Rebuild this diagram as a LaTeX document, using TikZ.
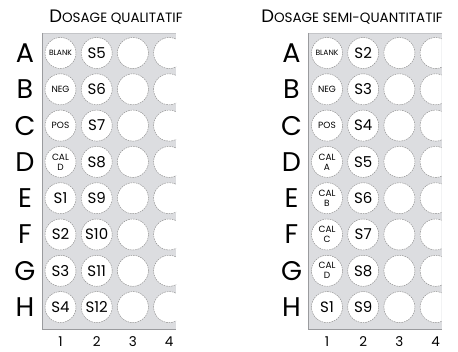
\documentclass[tikz,border=0pt]{standalone}
\usepackage{fontspec}
\setmainfont{Poppins}
\definecolor{platefill}{HTML}{DCDDE0}
\definecolor{platetop}{HTML}{C4C5C8}
\definecolor{plateedge}{HTML}{9A9B9E}
\definecolor{wellline}{HTML}{8C8C8C}
\begin{document}
\begin{tikzpicture}[x=1pt,y=-1pt,
  well/.style={circle, fill=white, draw=wellline, dash pattern=on 1.6pt off 0.9pt, line width=0.45pt, minimum size=31pt, inner sep=0pt, font=\fontsize{15}{15}\selectfont},
  tx/.style={},
  sm/.style={font=\fontsize{9}{9}\selectfont},
  xs/.style={font=\fontsize{7.6}{7.6}\selectfont},
  cal/.style={font=\fontsize{9}{10}\selectfont, align=center},
  rowlab/.style={font=\fontsize{27}{27}\selectfont, inner sep=0pt},
  collab/.style={font=\fontsize{13.5}{13.5}\selectfont, inner sep=0pt},
  titlelab/.style={inner sep=0pt}]
\useasboundingbox (0,0) rectangle (458,352);

% ---------- left plate ----------
\node[titlelab] (Ltitle) at (116,17) {{\fontsize{18}{18}\selectfont D}{\fontsize{13.5}{13.5}\selectfont OSAGE QUALITATIF}};
\fill[platefill] (42,33) rectangle (176,329);
\draw[platetop, line width=0.6pt] (42,33) -- (176,33);
\draw[plateedge, line width=0.8pt] (42,33) -- (42,329) -- (176,329);
\foreach \r [count=\i from 0] in {A,B,C,D,E,F,G,H} {
  \node[rowlab] (Lrow\r) at (25,53+36.3*\i) {\r};
}
\foreach \c [count=\j from 0] in {1,2,3,4} {
  \node[collab] (Lcol\c) at (60.5+36.2*\j,342) {\c};
}
\foreach \st/\lab [count=\i from 0] in {xs/BLANK, sm/NEG, sm/POS, cal/CAL\\D, tx/S1, tx/S2, tx/S3, tx/S4} {
  \node[well,\st] (Lw\i a) at (60.5,53+36.3*\i) {\lab};
}
\foreach \lab [count=\i from 0] in {S5,S6,S7,S8,S9,S10,S11,S12} {
  \node[well] (Lw\i b) at (96.7,53+36.3*\i) {\lab};
  \node[well] (Lw\i c) at (132.9,53+36.3*\i) {};
}
\begin{scope}
  \clip (42,33) rectangle (176,329);
  \foreach \i in {0,...,7} {
    \node[well] (Lw\i d) at (169.1,53+36.3*\i) {};
  }
\end{scope}

% ---------- right plate ----------
\begin{scope}[xshift=266.5pt]
\node[titlelab] (Rtitle) at (85.5,17) {{\fontsize{18}{18}\selectfont D}{\fontsize{13.5}{13.5}\selectfont OSAGE SEMI-QUANTITATIF}};
\fill[platefill] (42,33) rectangle (175,329);
\draw[platetop, line width=0.6pt] (42,33) -- (175,33);
\draw[plateedge, line width=0.8pt] (42,33) -- (42,329) -- (175,329);
\foreach \r [count=\i from 0] in {A,B,C,D,E,F,G,H} {
  \node[rowlab] (Rrow\r) at (25,53+36.3*\i) {\r};
}
\foreach \c [count=\j from 0] in {1,2,3,4} {
  \node[collab] (Rcol\c) at (60.5+36.2*\j,342) {\c};
}
\foreach \st/\lab [count=\i from 0] in {xs/BLANK, sm/NEG, sm/POS, cal/CAL\\A, cal/CAL\\B, cal/CAL\\C, cal/CAL\\D, tx/S1} {
  \node[well,\st] (Rw\i a) at (60.5,53+36.3*\i) {\lab};
}
\foreach \lab [count=\i from 0] in {S2,S3,S4,S5,S6,S7,S8,S9} {
  \node[well] (Rw\i b) at (96.7,53+36.3*\i) {\lab};
  \node[well] (Rw\i c) at (132.9,53+36.3*\i) {};
}
\begin{scope}
  \clip (42,33) rectangle (175,329);
  \foreach \i in {0,...,7} {
    \node[well] (Rw\i d) at (169.1,53+36.3*\i) {};
  }
\end{scope}
\end{scope}
\end{tikzpicture}
\end{document}
